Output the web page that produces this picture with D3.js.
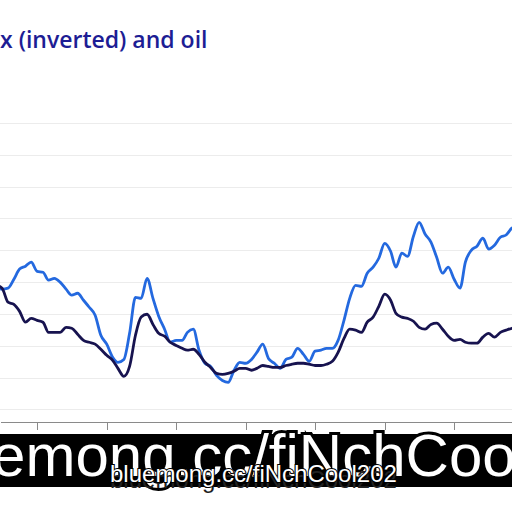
<html lang="en">
<head>
    <meta charset="utf-8">
    <script type="text/javascript" src="https://cdn.jsdelivr.net/npm/d3@7"></script>
    <style>
        body { margin: 0; background: white; }
        .axis path, .axis line { fill: none; stroke: #8a8a8a; shape-rendering: crispEdges; }
        .grid line { stroke: #ececec; shape-rendering: crispEdges; }
    </style>
</head>
<body>
<script type="text/javascript">
    // monthly, Jun 2011 .. Dec 2018
    var firstMonth = new Date(2011, 5, 1);
    var lastMonth = new Date(2019, 0, 1);
    var yearTicks = [2012, 2013, 2014, 2015, 2016, 2017, 2018];
    var gridValues = [0, 10, 20, 30, 40, 50, 60, 70, 80, 90];

    var oil = [
        38.4, 37.8, 38.1, 40.9, 44.1, 45.0, 46.3, 43.4, 43.1, 40.6,
        41.2, 40.0, 37.8, 35.9, 36.5, 34.3, 32.1, 29.6, 23.3, 20.5,
        16.4, 14.8, 15.7, 23.9, 35.2, 34.9, 41.2, 34.9, 29.3, 25.2,
        21.1, 21.7, 21.7, 24.2, 25.2, 18.6, 14.5, 13.5, 10.7, 9.1,
        8.5, 12.3, 14.8, 14.5, 15.7, 17.9, 20.5, 16.0, 14.5, 12.9,
        15.7, 16.4, 19.2, 17.3, 15.1, 18.3, 18.6, 19.2, 19.2, 21.7,
        28.0, 34.9, 39.0, 38.7, 42.8, 44.7, 47.5, 52.2, 49.7, 44.7,
        49.1, 48.1, 54.4, 58.8, 55.1, 52.6, 47.8, 42.8, 44.7, 40.9,
        38.1, 46.3, 50.0, 51.3, 53.8, 50.4, 51.6, 54.1, 54.8, 57.0, 57.6
    ];
    var dollarInv = [
        39.0, 38.1, 33.7, 33.0, 30.8, 27.4, 28.6, 28.0, 27.4, 24.2,
        24.2, 24.2, 25.8, 25.5, 23.6, 21.7, 21.1, 20.5, 18.9, 17.0,
        15.4, 12.9, 10.4, 13.5, 23.3, 29.0, 29.9, 26.7, 23.9, 23.0,
        21.1, 20.1, 19.2, 18.6, 18.9, 17.3, 14.8, 13.2, 11.3, 11.0,
        11.3, 12.0, 12.9, 12.9, 12.3, 12.9, 13.8, 13.5, 13.2, 13.2,
        13.8, 14.2, 14.5, 14.5, 14.2, 13.8, 13.8, 14.2, 15.1, 17.9,
        22.3, 25.2, 24.9, 24.2, 27.4, 29.0, 32.4, 36.2, 34.3, 30.2,
        29.0, 28.6, 27.7, 25.8, 25.2, 26.7, 27.1, 25.2, 23.0, 21.7,
        22.0, 21.1, 20.8, 20.8, 22.7, 23.9, 22.7, 24.2, 24.9, 25.5, 25.8
    ];

    var w = 512;
    var h = 512;
    var months = d3.timeMonth.range(firstMonth, lastMonth);

    var svg = d3.select("body")
        .append("svg")
        .attr("width", w)
        .attr("height", h);

    svg.append("rect")
        .attr("width", w)
        .attr("height", h)
        .attr("fill", "white");

    var xScale = d3.scaleTime()
        .domain([new Date(2011, 5, 20), new Date(2018, 10, 1)])
        .range([0, w]);

    var yScale = d3.scaleLinear()
        .domain([-3.8, 90])
        .range([421.5, 123]);

    // gridlines
    svg.append("g")
        .attr("class", "grid")
        .selectAll("line")
        .data(gridValues)
        .enter()
        .append("line")
        .attr("x1", 0)
        .attr("x2", w)
        .attr("y1", function(d) { return Math.round(yScale(d)) + 0.5; })
        .attr("y2", function(d) { return Math.round(yScale(d)) + 0.5; });

    var xAxis = d3.axisBottom(xScale)
        .tickValues(yearTicks.map(function(y) { return new Date(y, 0, 1); }))
        .tickSize(8)
        .tickSizeOuter(0)
        .tickFormat("");

    svg.append("g")
        .attr("class", "axis")
        .attr("transform", "translate(0," + yScale(-3.8) + ")")
        .call(xAxis);

    var line = function(values) {
        return d3.line()
            .x(function(d, i) { return xScale(months[i]); })
            .y(function(d) { return yScale(d); })
            .curve(d3.curveMonotoneX)(values);
    };

    svg.append("path")
        .attr("d", line(oil))
        .attr("fill", "none")
        .attr("stroke", "#2469df")
        .attr("stroke-width", 2.8)
        .attr("stroke-linejoin", "round");

    svg.append("path")
        .attr("d", line(dollarInv))
        .attr("fill", "none")
        .attr("stroke", "#17134f")
        .attr("stroke-width", 2.8)
        .attr("stroke-linejoin", "round");

    // title, cut off at the left edge
    svg.append("text")
        .attr("x", 0)
        .attr("y", 48)
        .attr("font-family", "Open Sans, sans-serif")
        .attr("font-weight", 600)
        .attr("font-size", "23px")
        .attr("fill", "#1d1d94")
        .text("x (inverted) and oil");

    // watermark band
    svg.append("rect")
        .attr("x", 0)
        .attr("y", 434)
        .attr("width", w)
        .attr("height", 53)
        .attr("fill", "black");

    svg.append("text")
        .attr("x", -88)
        .attr("y", 476)
        .attr("font-family", "Liberation Sans, Arial, sans-serif")
        .attr("font-size", "60px")
        .attr("fill", "white")
        .attr("stroke", "black")
        .attr("stroke-width", 6)
        .attr("paint-order", "stroke")
        .text("bluemong.cc/fiNchCool202");

    svg.append("text")
        .attr("x", 110)
        .attr("y", 488)
        .attr("font-family", "Liberation Sans, Arial, sans-serif")
        .attr("font-size", "24px")
        .attr("fill", "#222")
        .text("bluemong.cc/fiNchCool202");

    svg.append("text")
        .attr("x", 110)
        .attr("y", 482)
        .attr("font-family", "Liberation Sans, Arial, sans-serif")
        .attr("font-size", "24px")
        .attr("fill", "white")
        .attr("stroke", "black")
        .attr("stroke-width", 2)
        .attr("paint-order", "stroke")
        .text("bluemong.cc/fiNchCool202");
</script>
</body>
</html>
